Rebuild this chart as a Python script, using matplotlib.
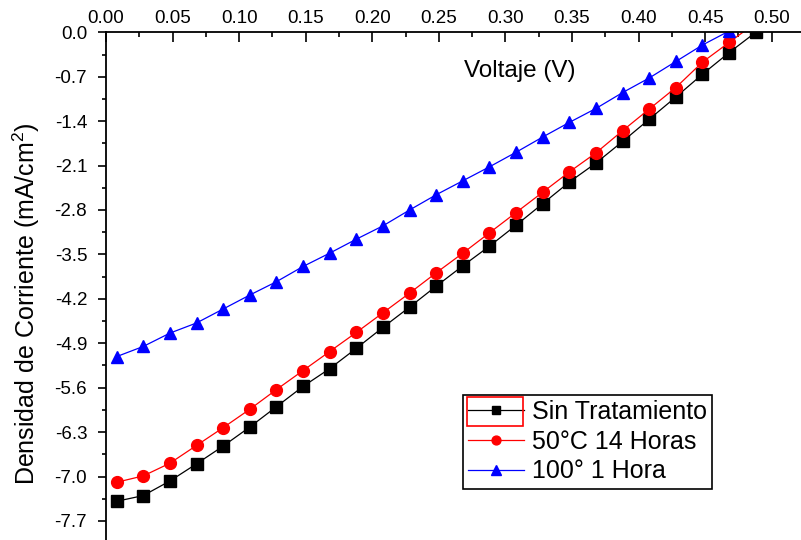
import matplotlib
matplotlib.use("Agg")
import matplotlib.pyplot as plt
from matplotlib.ticker import MultipleLocator, FormatStrFormatter
from matplotlib.patches import Rectangle

plt.rcParams['font.family'] = ['Liberation Sans', 'DejaVu Sans']
plt.rcParams['mathtext.fontset'] = 'custom'
plt.rcParams['mathtext.rm'] = 'Liberation Sans'

# voltage (V), same points for all three curves
voltaje = [0.008, 0.028, 0.048, 0.068, 0.088, 0.108, 0.128, 0.148, 0.168,
           0.188, 0.208, 0.228, 0.248, 0.268, 0.288, 0.308, 0.328, 0.348,
           0.368, 0.388, 0.408, 0.428, 0.448, 0.468, 0.488]

# current density (mA/cm2)
sin_tratamiento = [-7.39, -7.30, -7.07, -6.80, -6.52, -6.22, -5.90, -5.58, -5.30,
                   -4.98, -4.65, -4.33, -4.00, -3.68, -3.37, -3.04, -2.70, -2.36,
                   -2.06, -1.72, -1.37, -1.02, -0.66, -0.32, 0.00]
t50_14h = [-7.09, -6.99, -6.79, -6.51, -6.23, -5.94, -5.63, -5.33, -5.03,
           -4.73, -4.42, -4.11, -3.79, -3.48, -3.16, -2.84, -2.52, -2.20,
           -1.90, -1.55, -1.21, -0.87, -0.47, -0.16, 0.15]
t100_1h = [-5.11, -4.95, -4.74, -4.58, -4.36, -4.14, -3.93, -3.69, -3.48,
           -3.26, -3.05, -2.80, -2.56, -2.34, -2.12, -1.89, -1.65, -1.42,
           -1.20, -0.95, -0.72, -0.46, -0.20, 0.02]

etiquetas = ['Sin Tratamiento', '50°C 14 Horas', '100° 1 Hora']

W, H = 801, 540
fig = plt.figure(figsize=(W / 100, H / 100), dpi=100)
ax = fig.add_axes([106 / W, 0, (W - 106) / W, (H - 32.3) / H])

ax.plot(voltaje, sin_tratamiento, color='black', lw=0.9, marker='s', ms=8,
        label=etiquetas[0])
ax.plot(voltaje, t50_14h, color='red', lw=0.9, marker='o', ms=8.5,
        label=etiquetas[1])
ax.plot(voltaje[:len(t100_1h)], t100_1h, color='blue', lw=0.9, marker='^', ms=9,
        label=etiquetas[2])

ax.set_xlim(0, 0.522)
ax.set_ylim(-8.0, 0)

for s in ['right', 'bottom']:
    ax.spines[s].set_visible(False)
for s in ['top', 'left']:
    ax.spines[s].set_linewidth(1.3)

ax.xaxis.tick_top()
ax.xaxis.set_major_locator(MultipleLocator(0.05))
ax.xaxis.set_minor_locator(MultipleLocator(0.025))
ax.xaxis.set_major_formatter(FormatStrFormatter('%.2f'))
ax.yaxis.set_major_locator(MultipleLocator(0.7))
ax.yaxis.set_minor_locator(MultipleLocator(0.35))
ax.yaxis.set_major_formatter(FormatStrFormatter('%.1f'))

ax.tick_params(axis='x', which='major', direction='in', length=7.5, width=1.2,
               labelsize=13.5, pad=4)
ax.tick_params(axis='x', which='minor', direction='in', length=3.8, width=1.2)
ax.tick_params(axis='y', which='major', direction='out', length=5.5, width=1.2,
               labelsize=13.5, pad=8)
ax.tick_params(axis='y', which='minor', direction='out', length=3.2, width=1.2)

ax.set_xlabel('Voltaje (V)', fontsize=17.5)
ax.xaxis.set_label_position('top')
ax.xaxis.set_label_coords(0.595, 0.924)
ax.xaxis.label.set_va('center')

ax.set_ylabel(r'Densidad de Corriente (mA/cm$^{\mathrm{2}}$)', fontsize=18)
ax.yaxis.set_label_coords(-0.1151, 0.4648)
ax.yaxis.label.set_va('center')

leg = ax.legend(loc='upper left', bbox_to_anchor=(462.7 / W, 1 - 395 / H),
                bbox_transform=fig.transFigure, fontsize=18, frameon=True,
                fancybox=False, edgecolor='black', framealpha=1,
                handlelength=2.24, handletextpad=0.32, labelspacing=0.23,
                borderpad=0.2, borderaxespad=0, markerscale=0.75)
leg.get_frame().set_linewidth(1.2)

# red selection box around the first legend handle, as in the original
fig.canvas.draw()
fb = leg.get_frame().get_window_extent(fig.canvas.get_renderer())
box = Rectangle((fb.x0 + 4.6, fb.y1 - 2.3 - 28.4), 56, 28.4, transform=None,
                fill=False, edgecolor='red', lw=1.2)
fig.patches.append(box)

fig.savefig('out.png', dpi=100)
